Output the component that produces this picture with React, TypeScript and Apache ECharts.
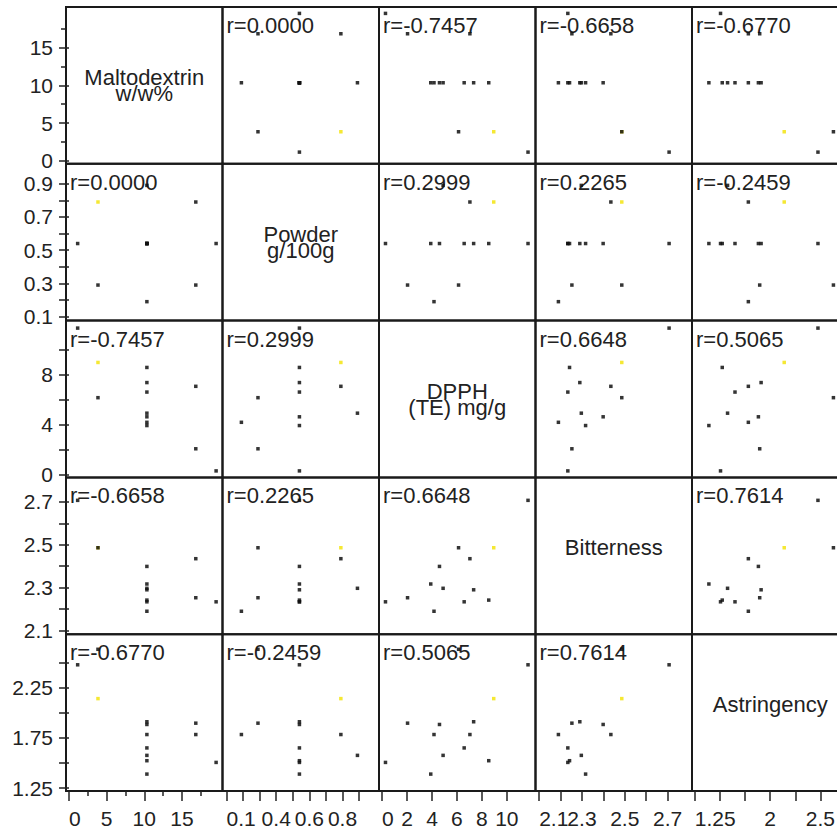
import React, { useEffect, useRef } from "react";
import * as echarts from "echarts";

// ---- data (13 runs of a central composite design) ----
const varNames = ["Maltodextrin\nw/w%", "Powder\ng/100g", "DPPH\n(TE) mg/g", "Bitterness", "Astringency"];
const maltodextrin = [3.85, 16.85, 3.85, 16.85, 1.15, 19.55, 10.35, 10.35, 10.35, 10.35, 10.35, 10.35, 10.35];
const powder = [0.79, 0.79, 0.29, 0.29, 0.54, 0.54, 0.19, 0.89, 0.54, 0.54, 0.54, 0.54, 0.54];
const dpph = [8.95, 7.04, 6.13, 2.04, 11.7, 0.27, 4.16, 4.89, 3.9, 4.6, 6.58, 7.34, 8.55];
const bitterness = [2.486, 2.435, 2.486, 2.253, 2.707, 2.234, 2.19, 2.297, 2.317, 2.399, 2.234, 2.29, 2.242];
const astringency = [2.14, 1.783, 2.63, 1.896, 2.476, 1.506, 1.783, 1.576, 1.39, 1.883, 1.65, 1.91, 1.523];
const highlightIndex = 0;

// correlation coefficients as printed
const rMalPow = 0.0;
const rMalDpph = -0.7457;
const rMalBit = -0.6658;
const rMalAst = -0.677;
const rPowDpph = 0.2999;
const rPowBit = 0.2265;
const rPowAst = -0.2459;
const rDpphBit = 0.6648;
const rDpphAst = 0.5065;
const rBitAst = 0.7614;

// axis scales
const axisMin = [-0.4, 0.076, -0.25, 2.083, 1.222];
const axisMax = [20.4, 1.02, 12.3, 2.814, 2.78];
const tickValues = [
  [0, 5, 10, 15],
  [0.1, 0.2, 0.3, 0.4, 0.5, 0.6, 0.7, 0.8, 0.9],
  [0, 2, 4, 6, 8, 10],
  [2.1, 2.2, 2.3, 2.4, 2.5, 2.6, 2.7],
  [1.25, 1.5, 1.75, 2, 2.25, 2.5],
];
const minorTickValues = [2.5, 7.5, 12.5, 17.5];
const yLabelValues = [
  [0, 5, 10, 15],
  [0.1, 0.3, 0.5, 0.7, 0.9],
  [0, 4, 8],
  [2.1, 2.3, 2.5, 2.7],
  [1.25, 1.75, 2.25],
];
const xLabelValues = [
  [0, 5, 10, 15],
  [0.1, 0.4, 0.6, 0.8],
  [0, 2, 4, 6, 8, 10],
  [2.1, 2.3, 2.5, 2.7],
  [1.25, 2, 2.5],
];

// ---- layout ----
const LEFT = 66;
const TOP = 7;
const CW = 156.5;
const CH = 156.8;
const FONT = "'Liberation Sans', Arial, sans-serif";
const INK = "#222";

export default function App() {
  const ref = useRef<HTMLDivElement>(null);
  useEffect(() => {
    if (!ref.current) return;
    const chart = echarts.init(ref.current, null, { renderer: "svg" });
    const vars = [maltodextrin, powder, dpph, bitterness, astringency];
    const rMatrix: number[][] = [
      [1, rMalPow, rMalDpph, rMalBit, rMalAst],
      [rMalPow, 1, rPowDpph, rPowBit, rPowAst],
      [rMalDpph, rPowDpph, 1, rDpphBit, rDpphAst],
      [rMalBit, rPowBit, rDpphBit, 1, rBitAst],
      [rMalAst, rPowAst, rDpphAst, rBitAst, 1],
    ];
    const n = 5;
    const grids: any[] = [];
    const xAxes: any[] = [];
    const yAxes: any[] = [];
    const series: any[] = [];
    const graphics: any[] = [];
    const tickStyle = { color: INK, width: 1.5 };
    const labelStyle = { fontSize: 21, fontFamily: FONT, color: INK };
    const extraX: any[] = [];

    for (let r = 0; r < n; r++) {
      for (let c = 0; c < n; c++) {
        const i = r * n + c;
        const left = LEFT + c * CW;
        const top = TOP + r * CH;
        grids.push({
          left,
          top,
          width: CW,
          height: CH,
          show: true,
          borderColor: "#1a1a1a",
          borderWidth: 2,
          backgroundColor: "transparent",
        });
        const showX = r === n - 1;
        const showY = c === 0;
        xAxes.push({
          gridIndex: i,
          type: "value",
          position: "bottom",
          min: axisMin[c],
          max: axisMax[c],
          show: showX,
          axisLine: { show: false },
          splitLine: { show: false },
          axisTick: { show: showX, customValues: tickValues[c], length: 10, lineStyle: tickStyle },
          axisLabel: {
            show: showX,
            customValues: xLabelValues[c].slice(1),
            margin: 17,
            showMinLabel: true,
            showMaxLabel: true,
            hideOverlap: false,
            ...labelStyle,
          },
        });
        if (showX) {
          // first label of each bottom axis, kept inside its cell
          extraX.push({
            gridIndex: i,
            type: "value",
            position: "bottom",
            min: axisMin[c],
            max: axisMax[c],
            axisLine: { show: false },
            splitLine: { show: false },
            axisTick: { show: false },
            axisLabel: {
              show: true,
              customValues: [xLabelValues[c][0]],
              margin: 17,
              align: "left",
              showMinLabel: true,
              showMaxLabel: true,
              ...labelStyle,
            },
          });
        }
        yAxes.push({
          gridIndex: i,
          type: "value",
          position: "left",
          min: axisMin[r],
          max: axisMax[r],
          show: showY,
          axisLine: { show: false },
          splitLine: { show: false },
          axisTick: { show: showY, customValues: tickValues[r], length: 10, lineStyle: tickStyle },
          axisLabel: {
            show: showY,
            customValues: yLabelValues[r],
            margin: 13,
            showMinLabel: true,
            showMaxLabel: true,
            ...labelStyle,
          },
        });
        const cx = left + CW / 2;
        const cy = top + CH / 2;
        if (r === c) {
          const lines = varNames[r].split("\n");
          graphics.push({
            type: "text",
            x: cx,
            y: cy - 8,
            style: { text: lines[0], font: `22px ${FONT}`, fill: INK, align: "center", verticalAlign: "middle" },
          });
          if (lines[1]) {
            graphics.push({
              type: "text",
              x: cx,
              y: cy + 8.5,
              style: { text: lines[1], font: `22px ${FONT}`, fill: INK, align: "center", verticalAlign: "middle" },
            });
          }
        } else {
          const black: number[][] = [];
          const yellow: number[][] = [];
          for (let k = 0; k < maltodextrin.length; k++) {
            const pt = [vars[c][k], vars[r][k]];
            if (k === highlightIndex) yellow.push(pt);
            else black.push(pt);
          }
          series.push({
            type: "scatter",
            xAxisIndex: i,
            yAxisIndex: i,
            data: yellow,
            symbol: "rect",
            symbolSize: 3.5,
            itemStyle: { color: "#f2e200" },
            silent: true,
          });
          series.push({
            type: "scatter",
            xAxisIndex: i,
            yAxisIndex: i,
            data: black,
            symbol: "rect",
            symbolSize: 3.5,
            itemStyle: { color: "#111", opacity: 0.85 },
            silent: true,
          });
          graphics.push({
            type: "text",
            x: left + 4,
            y: top + 18.5,
            style: {
              text: "r=" + rMatrix[r][c].toFixed(4),
              font: `22px ${FONT}`,
              fill: INK,
              align: "left",
              verticalAlign: "middle",
            },
          });
        }
      }
    }
    xAxes.push(...extraX);
    // minor ticks for maltodextrin axes
    xAxes.push({
      gridIndex: (n - 1) * n,
      type: "value",
      position: "bottom",
      min: axisMin[0],
      max: axisMax[0],
      axisLine: { show: false },
      splitLine: { show: false },
      axisLabel: { show: false },
      axisTick: { show: true, customValues: minorTickValues, length: 5, lineStyle: tickStyle },
    });
    yAxes.push({
      gridIndex: 0,
      type: "value",
      position: "left",
      min: axisMin[0],
      max: axisMax[0],
      axisLine: { show: false },
      splitLine: { show: false },
      axisLabel: { show: false },
      axisTick: { show: true, customValues: minorTickValues, length: 5, lineStyle: tickStyle },
    });

    chart.setOption({
      animation: false,
      backgroundColor: "#fff",
      grid: grids,
      xAxis: xAxes,
      yAxis: yAxes,
      series,
      graphic: graphics,
    });
    return () => chart.dispose();
  }, []);
  return (
    <div style={{ position: "fixed", left: 0, top: 0, right: 0, bottom: 0, overflow: "hidden", background: "#fff" }}>
      <div ref={ref} style={{ width: 850, height: 833 }} />
    </div>
  );
}
